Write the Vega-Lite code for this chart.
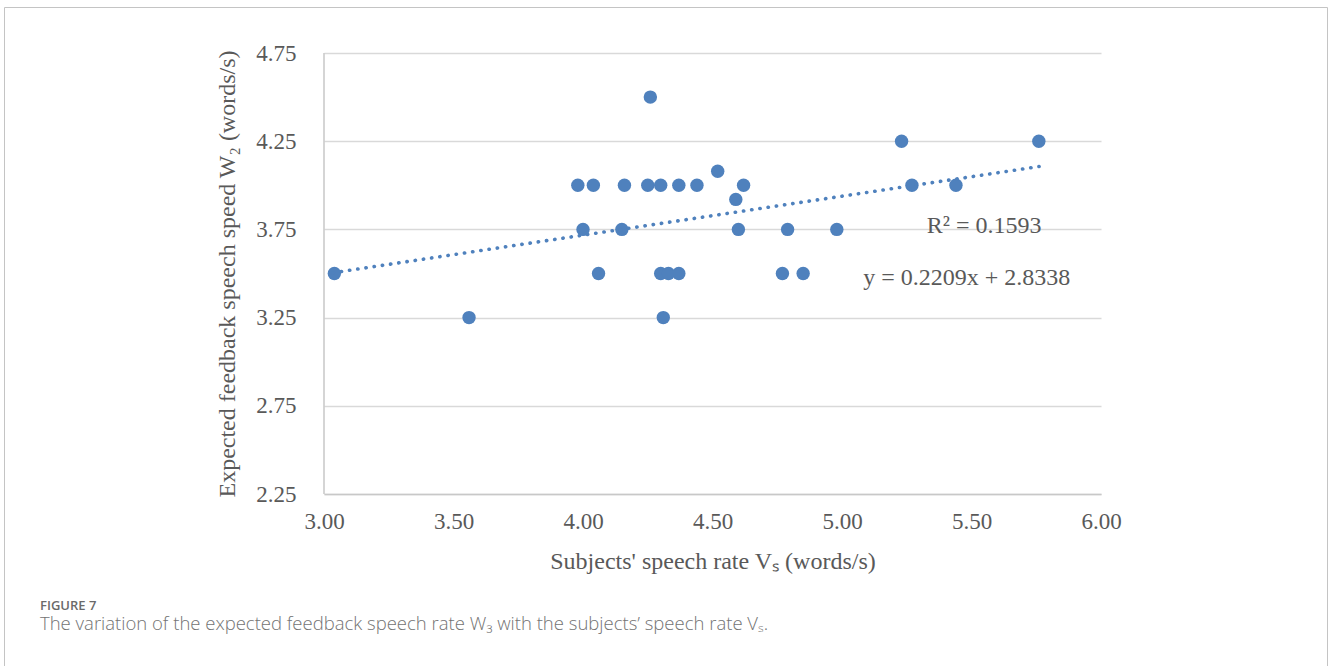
{
  "$schema": "https://vega.github.io/schema/vega-lite/v6.json",
  "width": 1323,
  "height": 659,
  "autosize": {"type": "none"},
  "padding": {"left": 4, "top": 7, "right": 1, "bottom": 0},
  "background": "white",
  "config": {"view": {"stroke": "#c4c4c4", "strokeWidth": 1}},
  "title": {
    "text": "FIGURE 7",
    "subtitle": "The variation of the expected feedback speech rate W₃ with the subjects’ speech rate Vₛ.",
    "orient": "bottom",
    "anchor": "start",
    "frame": "group",
    "offset": -66,
    "dx": 36,
    "font": "Open Sans",
    "fontSize": 13,
    "fontWeight": 600,
    "color": "#6a6a6a",
    "subtitleFont": "Open Sans",
    "subtitleFontSize": 18.5,
    "subtitleFontWeight": 300,
    "subtitleColor": "#737373",
    "subtitlePadding": 2
  },
  "datasets": {
    "points": [
      {"vs": 3.04, "w": 3.5},
      {"vs": 3.56, "w": 3.25},
      {"vs": 3.98, "w": 4.0},
      {"vs": 4.04, "w": 4.0},
      {"vs": 4.0, "w": 3.75},
      {"vs": 4.06, "w": 3.5},
      {"vs": 4.16, "w": 4.0},
      {"vs": 4.15, "w": 3.75},
      {"vs": 4.26, "w": 4.5},
      {"vs": 4.25, "w": 4.0},
      {"vs": 4.3, "w": 4.0},
      {"vs": 4.37, "w": 4.0},
      {"vs": 4.44, "w": 4.0},
      {"vs": 4.52, "w": 4.08},
      {"vs": 4.62, "w": 4.0},
      {"vs": 4.59, "w": 3.92},
      {"vs": 4.6, "w": 3.75},
      {"vs": 4.3, "w": 3.5},
      {"vs": 4.33, "w": 3.5},
      {"vs": 4.37, "w": 3.5},
      {"vs": 4.31, "w": 3.25},
      {"vs": 4.79, "w": 3.75},
      {"vs": 4.77, "w": 3.5},
      {"vs": 4.85, "w": 3.5},
      {"vs": 4.98, "w": 3.75},
      {"vs": 5.23, "w": 4.25},
      {"vs": 5.76, "w": 4.25},
      {"vs": 5.27, "w": 4.0},
      {"vs": 5.44, "w": 4.0}
    ],
    "trend": [
      {"vs": 3.035, "w": 3.5042},
      {"vs": 5.761, "w": 4.1064}
    ],
    "notes": [
      {"vs": 5.327, "w": 3.731, "label": "R² = 0.1593"},
      {"vs": 5.082, "w": 3.435, "label": "y = 0.2209x + 2.8338"}
    ],
    "yline": [
      {"vs": 3, "w": 2.25, "w2": 4.75}
    ]
  },
  "layer": [
    {
      "data": {"name": "points"},
      "mark": {"type": "point", "shape": "circle", "filled": true, "opacity": 1, "size": 180, "color": "#4F81BD", "strokeWidth": 0},
      "encoding": {
        "x": {
          "field": "vs",
          "type": "quantitative",
          "scale": {"domain": [3, 6], "range": [320, 1097], "nice": false, "zero": false},
          "axis": {
            "orient": "bottom",
            "offset": -172,
            "values": [3, 3.5, 4, 4.5, 5, 5.5, 6],
            "format": ".2f",
            "grid": false,
            "ticks": false,
            "domain": true,
            "domainColor": "#c8c8c8",
            "domainWidth": 1.3,
            "labelFlush": false,
            "labelPadding": 16,
            "labelFont": "Liberation Serif",
            "labelFontSize": 23,
            "labelColor": "#595959",
            "title": "Subjects' speech rate Vₛ (words/s)",
            "titleFont": "Liberation Serif",
            "titleFontSize": 24,
            "titleFontWeight": "normal",
            "titleColor": "#595959",
            "titlePadding": 16
          }
        },
        "y": {
          "field": "w",
          "type": "quantitative",
          "scale": {"domain": [2.25, 4.75], "range": [487, 46], "nice": false, "zero": false},
          "axis": {
            "orient": "left",
            "offset": -320,
            "values": [2.25, 2.75, 3.25, 3.75, 4.25, 4.75],
            "format": ".2f",
            "grid": true,
            "gridColor": "#d9d9d9",
            "gridWidth": 1.3,
            "ticks": false,
            "domain": false,
            "labelFlush": false,
            "labelPadding": 28,
            "labelFont": "Liberation Serif",
            "labelFontSize": 23,
            "labelColor": "#595959",
            "title": "Expected feedback speech speed W₂ (words/s)",
            "titleFont": "Liberation Serif",
            "titleFontSize": 24,
            "titleFontWeight": "normal",
            "titleColor": "#595959",
            "titlePadding": 16
          }
        }
      }
    },
    {
      "data": {"name": "yline"},
      "mark": {"type": "rule", "color": "#c3c3c3", "strokeWidth": 1.4},
      "encoding": {
        "x": {"field": "vs", "type": "quantitative"},
        "y": {"field": "w", "type": "quantitative"},
        "y2": {"field": "w2"}
      }
    },
    {
      "data": {"name": "trend"},
      "mark": {"type": "line", "color": "#4F81BD", "strokeWidth": 3.6, "strokeCap": "round", "strokeDash": [0.3, 8]},
      "encoding": {
        "x": {"field": "vs", "type": "quantitative"},
        "y": {"field": "w", "type": "quantitative"}
      }
    },
    {
      "data": {"name": "notes"},
      "mark": {"type": "text", "align": "left", "baseline": "alphabetic", "font": "Liberation Serif", "fontSize": 24, "color": "#595959"},
      "encoding": {
        "x": {"field": "vs", "type": "quantitative"},
        "y": {"field": "w", "type": "quantitative"},
        "text": {"field": "label"}
      }
    }
  ]
}
